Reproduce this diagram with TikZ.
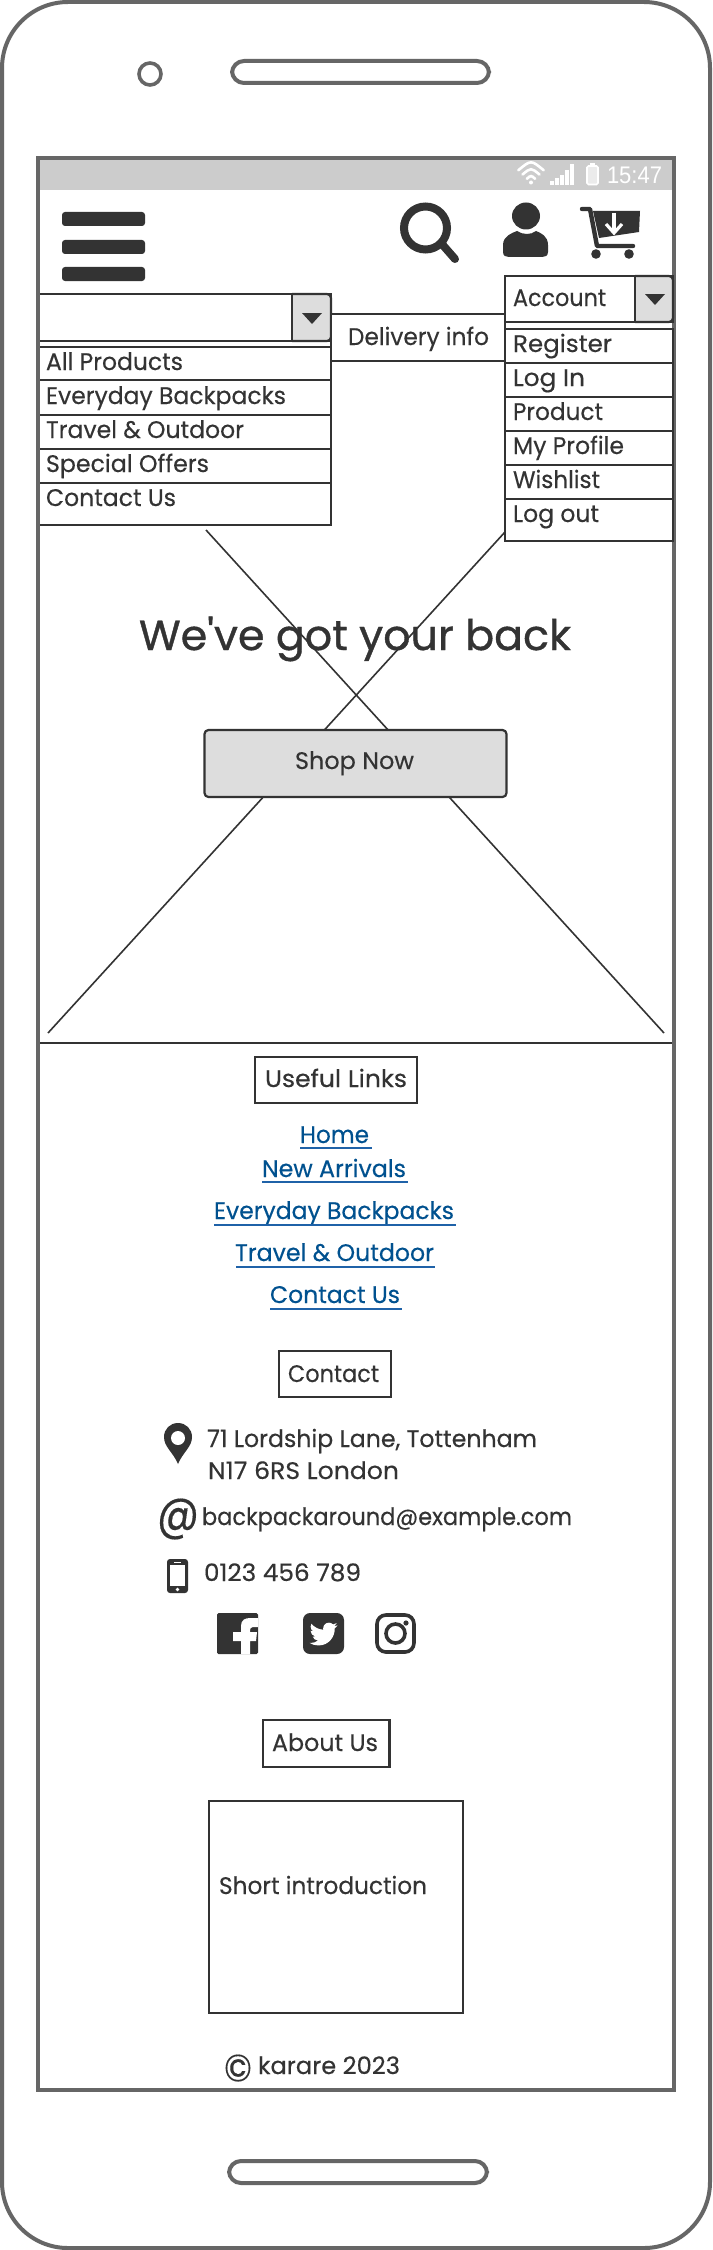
\documentclass[tikz,border=0pt]{standalone}
\usepackage{fontspec}
\usepackage{graphicx}
\setmainfont[FakeBold=0.3,Ligatures=NoCommon]{Poppins}
\newfontfamily\herofont[FakeBold=0.9]{Poppins}
\newfontfamily\statusfont{Liberation Sans}
\definecolor{ink}{HTML}{333333}
\definecolor{frameg}{HTML}{666666}
\definecolor{barg}{HTML}{CCCCCC}
\definecolor{btng}{HTML}{DDDDDD}
\definecolor{linkb}{HTML}{00518F}
\definecolor{ulb}{HTML}{1F62A8}
\newcommand\fitw[2]{\resizebox{#1pt}{\height}{#2}}
\tikzset{
  x=1pt,y=-1pt,
  tx/.style={inner sep=0pt,outer sep=0pt,text=ink,anchor=base west,xshift=-1pt,font=\fontsize{24}{28}\selectfont},
  lk/.style={tx,text=linkb},
  frame/.style={draw=frameg,line width=4pt},
  box/.style={draw=ink,line width=2.2pt,fill=white},
  btn/.style={draw=ink,line width=2.2pt,fill=btng,rounded corners=4pt},
  ul/.style={draw=ulb,line width=2pt},
  cross/.style={draw=ink,line width=1.6pt},
  wf/.style={draw=white,line width=2.6pt,line cap=round}
}
\begin{document}
\begin{tikzpicture}
\useasboundingbox (0,0) rectangle (712,2250);
\fill[white] (0,0) rectangle (712,2250);
% phone body
\draw[frame] (2,2) [rounded corners=66pt] rectangle (710,2248);
\draw[draw=frameg,line width=3.6pt] (150,74) circle [radius=11pt];
\draw[frame,rounded corners=12pt] (232,61) rectangle (489,83);
\draw[frame,rounded corners=12pt] (229,2161) rectangle (487,2183);
% status bar
\fill[barg] (38,158) rectangle (674,190);
\draw[wf] (518.3,170.3) .. controls (531,159.7) .. (543.7,170.3);
\draw[wf] (522.5,174.5) .. controls (531,167.5) .. (539.5,174.5);
\draw[wf] (526.8,178.8) .. controls (531,175.2) .. (535.2,178.8);
\fill[white] (531,182.5) circle [radius=2pt];
\foreach \bx/\bh in {550/4,555/7,560/10,565/15,570/21}{\fill[white] (\bx,185) rectangle ++(3.6,-\bh);}
\draw[draw=white,line width=1.6pt,fill=btng!60!white,rounded corners=1.5pt] (587,166) rectangle (598,184.5);
\fill[white] (590,163.5) rectangle (595,166);
\node[tx,text=white,font=\statusfont\fontsize{24}{28}\selectfont] (clock) at (608,184) {\fitw{55}{15:47}};
% hamburger
\foreach \by in {212,240,267}{\fill[ink,rounded corners=3pt] (62,\by) rectangle (145,\by+14);}
% search
\draw[draw=ink,line width=8pt] (425.5,228) circle [radius=21.5pt];
\draw[draw=ink,line width=8pt,line cap=round] (441,243) -- (455,259);
% person
\fill[ink] (526,216) ellipse [x radius=14pt,y radius=13.5pt];
\fill[ink] (503,252) -- (503,245) .. controls (503,236) and (512,233) .. (517,231) .. controls (523,235) and (531,235) .. (536,231) .. controls (541,233) and (548,236) .. (548,245) -- (548,252) .. controls (548,256) and (545,257) .. (542,257) -- (509,257) .. controls (506,257) and (503,256) .. (503,252) -- cycle;
% cart
\draw[draw=ink,line width=4.4pt,line cap=round,line join=round] (582,209) -- (590,209) -- (597,246) -- (633,246);
\fill[ink] (593,211) -- (640,211) -- (639,232) -- (599,238) -- cycle;
\fill[ink] (596,254) circle [radius=4.8pt];
\fill[ink] (629,254) circle [radius=4.8pt];
\draw[draw=white,line width=3.2pt] (614,213) -- (614,232);
\draw[draw=white,line width=3.2pt] (606,224) -- (614,233) -- (622,224);
% hero
\coordinate (xa) at (206,530);
\coordinate (xb) at (664,1033);
\coordinate (xc) at (505,532);
\coordinate (xd) at (48,1033);
\draw[cross] (xa) -- (xb);
\draw[cross] (xc) -- (xd);
\draw[draw=ink,line width=2.2pt] (38,1043) -- (674,1043);
\node[tx,font=\herofont\fontsize{42}{48}\selectfont] (hero) at (140,650) {\fitw{432}{We\symbol{39}ve got your back}};
\draw[btn] (204.5,730) rectangle (506.5,797);
\node[tx] (shop) at (296,769) {\fitw{119}{Shop Now}};
% left menu
\draw[box] (38,294) rectangle (331,341);
\draw[btn,fill=btng] (292,294) -- (331,294) -- (331,341) -- (292,341);
\draw[draw=ink,line width=2.2pt] (292,294) -- (292,341);
\fill[ink] (302,313) -- (322,313) -- (312,324) -- cycle;
\draw[box] (38,347) rectangle (331,525);
\foreach \ry in {380,415,449,483}{\draw[draw=ink,line width=2.2pt] (38,\ry) -- (331,\ry);}
\node[tx] (m1) at (47,370) {\fitw{137}{All Products}};
\node[tx] (m2) at (47,404) {\fitw{240}{Everyday Backpacks}};
\node[tx] (m3) at (47,438) {\fitw{198}{Travel \& Outdoor}};
\node[tx] (m4) at (47,472) {\fitw{163}{Special Offers}};
\node[tx] (m5) at (47,506) {\fitw{130}{Contact Us}};
% delivery
\draw[box] (331,314) rectangle (505,361);
\node[tx] (del) at (349,345) {\fitw{141}{Delivery info}};
% screen frame
\draw[frame] (38,158) rectangle (674,2090);
% right menu
\draw[box] (505,276) rectangle (673,322);
\draw[btn] (635,276) -- (673,276) -- (673,322) -- (635,322);
\draw[draw=ink,line width=2.2pt] (635,276) -- (635,322);
\fill[ink] (645,294) -- (665,294) -- (655,305) -- cycle;
\node[tx] (acc) at (514,306) {\fitw{93}{Account}};
\draw[box] (505,329) rectangle (673,541);
\foreach \ry in {363,397,431,465,499}{\draw[draw=ink,line width=2.2pt] (505,\ry) -- (673,\ry);}
\node[tx] (r1) at (514,352) {\fitw{99}{Register}};
\node[tx] (r2) at (514,386) {\fitw{72}{Log In}};
\node[tx] (r3) at (514,420) {\fitw{90}{Product}};
\node[tx] (r4) at (514,454) {\fitw{111}{My Profile}};
\node[tx] (r5) at (514,488) {\fitw{87}{Wishlist}};
\node[tx] (r6) at (514,522) {\fitw{86}{Log out}};
% useful links
\draw[box] (255,1057) rectangle (417,1103);
\node[tx] (ulh) at (266,1087) {\fitw{142}{Useful Links}};
\node[lk] (l1) at (301,1143) {\fitw{69}{Home}};
\draw[ul] (300,1148) -- (372,1148);
\node[lk] (l2) at (263,1177) {\fitw{144}{New Arrivals}};
\draw[ul] (262,1182) -- (408,1182);
\node[lk] (l3) at (215,1219) {\fitw{240}{Everyday Backpacks}};
\draw[ul] (214,1225) -- (456,1225);
\node[lk] (l4) at (236,1261) {\fitw{199}{Travel \& Outdoor}};
\draw[ul] (236,1267) -- (435,1267);
\node[lk] (l5) at (271,1303) {\fitw{130}{Contact Us}};
\draw[ul] (270,1309) -- (402,1309);
% contact
\draw[box] (279,1351) rectangle (391,1397);
\node[tx] (conh) at (289,1382) {\fitw{91}{Contact}};
\fill[ink] (178,1464) .. controls (173,1452) and (164,1447) .. (164,1437) .. controls (164,1429) and (170,1423) .. (178,1423) .. controls (186,1423) and (192,1429) .. (192,1437) .. controls (192,1447) and (183,1452) .. (178,1464) -- cycle;
\fill[white] (178,1438) circle [radius=7pt];
\node[tx] (a1) at (208,1447) {\fitw{330}{71 Lordship Lane, Tottenham}};
\node[tx] (a2) at (209,1479) {\fitw{191}{N17 6RS London}};
\node[inner sep=0pt,text=ink,font=\fontsize{40}{44}\selectfont] (at) at (178,1519) {\resizebox*{42pt}{41pt}{@}};
\node[tx] (em) at (203,1525) {\fitw{370}{backpackaround@example.com}};
\fill[ink,rounded corners=3pt] (167,1559) rectangle (188,1593);
\fill[white] (170,1565) rectangle (185,1586);
\fill[white] (177.5,1589.5) circle [radius=1.8pt];
\fill[white] (174,1561.5) rectangle (181,1562.5);
\node[tx] (ph) at (205,1581) {\fitw{157}{0123 456 789}};
% social
\fill[ink,rounded corners=1.5pt] (217,1613) rectangle (258,1654);
\fill[white] (241,1654) -- (241,1641) -- (233,1641) -- (233,1632) -- (241,1632) -- (241,1626) .. controls (241,1620) and (245,1618) .. (250,1618) -- (258,1618) -- (258,1627) -- (253,1627) .. controls (251,1627) and (250,1628) .. (250,1632) -- (257,1632) -- (256,1641) -- (250,1641) -- (250,1654) -- cycle;
\fill[ink,rounded corners=7pt] (303,1613) rectangle (344,1654);
\begin{scope}[shift={(309.5,1620)},x=1.17pt,y=-1.17pt]
\fill[white] (23.95,4.57) .. controls (23.1,4.95) and (22.1,5.2) .. (21.13,5.35) .. controls (22.15,4.73) and (22.93,3.76) .. (23.29,2.62) .. controls (22.34,3.18) and (21.29,3.58) .. (20.16,3.8) .. controls (19.27,2.85) and (18,2.26) .. (16.6,2.26) .. controls (13.88,2.26) and (11.68,4.46) .. (11.68,7.18) .. controls (11.68,7.57) and (11.72,7.94) .. (11.8,8.3) .. controls (7.69,8.095) and (4.067,6.13) .. (1.64,3.162) .. controls (1.22,3.89) and (.974,4.73) .. (.974,5.637) .. controls (.974,7.347) and (1.84,8.85) .. (3.162,9.733) .. controls (2.35,9.71) and (1.6,9.49) .. (.934,9.117) -- (.934,9.177) .. controls (.934,11.56) and (2.63,13.55) .. (4.88,14.0) .. controls (4.47,14.11) and (4.03,14.17) .. (3.58,14.17) .. controls (3.26,14.17) and (2.95,14.14) .. (2.67,14.09) .. controls (3.29,16.04) and (5.1,17.47) .. (7.27,17.5) .. controls (5.58,18.83) and (3.45,19.62) .. (1.17,19.61) .. controls (.78,19.61) and (.39,19.59) .. (0,19.54) .. controls (2.19,20.94) and (4.78,21.75) .. (7.56,21.75) .. controls (16.61,21.75) and (21.56,14.25) .. (21.56,7.77) .. controls (21.56,7.56) and (21.56,7.35) .. (21.54,7.14) .. controls (22.5,6.45) and (23.34,5.58) .. (24,4.59) -- cycle;
\end{scope}
\draw[draw=ink,line width=3.6pt,rounded corners=9pt] (377,1615) rectangle (414,1652);
\draw[draw=ink,line width=3.6pt] (395.5,1633.5) circle [radius=9.5pt];
\fill[ink] (406,1623) circle [radius=2.6pt];
% about
\draw[box] (263,1720) rectangle (389.5,1767);
\node[tx] (abh) at (273,1751) {\fitw{106}{About Us}};
\draw[box] (209,1801) rectangle (463,2013);
\node[tx] (intro) at (220,1894) {\fitw{208}{Short introduction}};
\node[inner sep=0pt,text=ink,font=\fontsize{30}{34}\selectfont] (copy) at (238,2068) {\resizebox*{28pt}{27pt}{©}};
\node[tx] (kar) at (259,2074) {\fitw{142}{karare 2023}};
\end{tikzpicture}
\end{document}
